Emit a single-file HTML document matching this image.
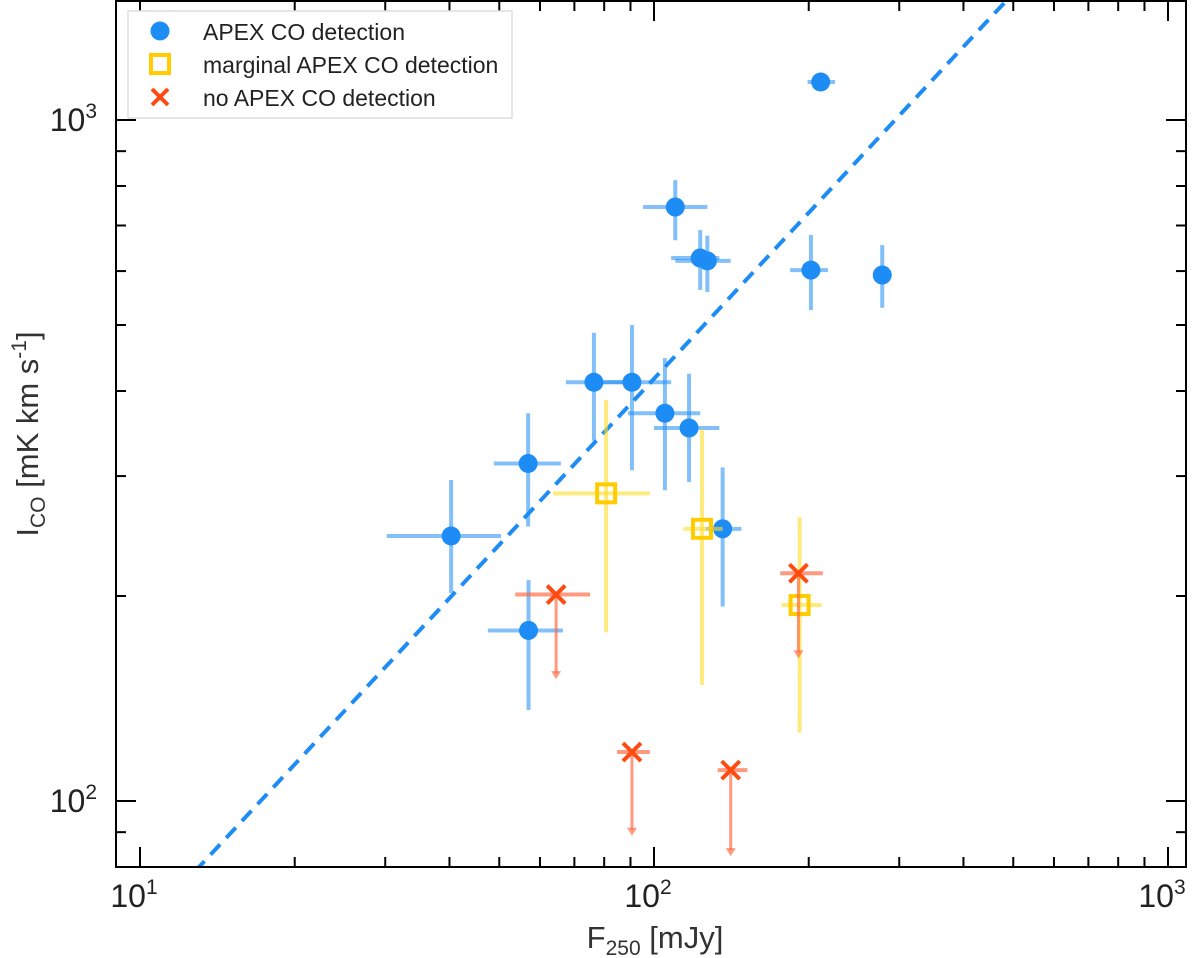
<!DOCTYPE html>
<html><head><meta charset="utf-8"><style>
html,body{margin:0;padding:0;background:#fff;}
svg{display:block;font-family:"Liberation Sans",Arial,sans-serif;}
</style></head><body>
<svg id="chart" width="1200" height="958" viewBox="0 0 1200 958">
<defs><clipPath id="plotclip"><rect x="116" y="1" width="1070" height="866"/></clipPath></defs>
<g id="fit" clip-path="url(#plotclip)"></g>
<g id="marks" clip-path="url(#plotclip)"></g>
<rect x="116" y="1" width="1070" height="866" fill="none" stroke="#000" stroke-width="2"/>
<g id="ticks"></g>
<g>
<rect x="128" y="11" width="384" height="107" fill="#fff" stroke="#ddd" stroke-width="1.5"/>
<circle cx="160" cy="31" r="9.5" fill="#1e8cf5"/>
<text x="203" y="40" font-size="23" fill="#222">APEX CO detection</text>
<rect x="151" y="55" width="18" height="18" fill="none" stroke="#ffcc00" stroke-width="4"/>
<text x="203" y="73" font-size="23" fill="#222">marginal APEX CO detection</text>
<path d="M152,89 L168,105 M168,89 L152,105" stroke="#ff4a10" stroke-width="4"/>
<text x="203" y="106" font-size="23" fill="#222">no APEX CO detection</text>
</g>
<text x="655" y="948" font-size="31" text-anchor="middle" fill="#333">F<tspan font-size="21" dy="7">250</tspan><tspan dy="-7"> [mJy]</tspan></text>
<text transform="translate(38,434) rotate(-90)" font-size="31" text-anchor="middle" fill="#333">I<tspan font-size="21" dy="7">CO</tspan><tspan dy="-7"> [mK km s</tspan><tspan font-size="21" dy="-12">-1</tspan><tspan dy="12">]</tspan></text>
</svg>
<script>
// Detected: [x, xlo, xhi, y, ylo, yhi]
const detX   = [40.3, 56.9, 57.0, 76.4, 90.6, 105, 110, 117, 123, 127, 136, 202, 211, 278];
const detXlo = [30.2, 48.8, 47.5, 67.4, 77.5, 89.0, 95.2, 100, 108, 110, 126, 184, 199, 272];
const detXhi = [50.4, 65.9, 66.5, 87.8, 108, 123, 127, 134, 134, 141, 148, 218, 225, 284];
const detY   = [245, 313, 178, 412, 412, 371, 745, 353, 627, 621, 251, 602, 1137, 592];
const detYlo = [202, 253, 136, 338, 306, 286, 666, 294, 563, 559, 193, 526, 1104, 530];
const detYhi = [296, 371, 211, 487, 500, 447, 816, 424, 689, 676, 309, 678, 1172, 655];
// Marginal
const marX   = [80.7, 124, 192];
const marXlo = [63.6, 114, 177];
const marXhi = [98.2, 136, 212];
const marY   = [283, 251, 194];
const marYlo = [177, 148, 126];
const marYhi = [388, 351, 261];
// Non-detections (upper limits)
const nonX   = [64.5, 90.6, 141, 191];
const nonXlo = [53.7, 84.7, 133, 176];
const nonXhi = [75.1, 98.2, 152, 213];
const nonY   = [201, 118, 111, 216];
const nonArrow = [151, 88.9, 83.0, 162];
// Fit: I = fitA * F^fitSlope
const fitA = 10.0;
const fitSlope = 0.81;
const xTickVals = [10, 100, 1000];
const xTickLabels = ["1", "2", "3"];
const yTickVals = [100, 1000];
const yTickLabels = ["2", "3"];

const NS = "http://www.w3.org/2000/svg";
function X(v){ return 140 + 514*Math.log10(v/10); }
function Y(v){ return 801 - 681*Math.log10(v/100); }
function mk(tag, attrs, parent){
  const e = document.createElementNS(NS, tag);
  for (const k in attrs) e.setAttribute(k, attrs[k]);
  parent.appendChild(e); return e;
}
const marks = document.getElementById('marks');
const ticks = document.getElementById('ticks');
const fitG = document.getElementById('fit');

const fl = mk('line', {x1:X(9), y1:Y(fitA*Math.pow(9,fitSlope)), x2:X(1100), y2:Y(fitA*Math.pow(1100,fitSlope)), stroke:'#1e8cf5', 'stroke-width':4, 'stroke-dasharray':'14,9'}, fitG);



function errbars(x, xlo, xhi, y, ylo, yhi, color, name){
  const g = mk('g', {}, marks);
  
  
  mk('line', {x1:X(xlo), x2:X(xhi), y1:Y(y), y2:Y(y), stroke:color, 'stroke-width':4}, g);
  mk('line', {x1:X(x), x2:X(x), y1:Y(ylo), y2:Y(yhi), stroke:color, 'stroke-width':4}, g);
  return g;
}
for (let i=0;i<detX.length;i++){
  const g = errbars(detX[i],detXlo[i],detXhi[i],detY[i],detYlo[i],detYhi[i],'rgba(30,140,245,0.55)','detection-point-'+i);
  const c = mk('circle', {cx:X(detX[i]), cy:Y(detY[i]), r:9.5, fill:'#1e8cf5'}, g);
  
  
}
for (let i=0;i<marX.length;i++){
  const g = errbars(marX[i],marXlo[i],marXhi[i],marY[i],marYlo[i],marYhi[i],'rgba(255,220,40,0.6)','marginal-point-'+i);
  const r = mk('rect', {x:X(marX[i])-9, y:Y(marY[i])-9, width:18, height:18, fill:'none', stroke:'#ffcc00', 'stroke-width':4}, g);
  
  
}
for (let i=0;i<nonX.length;i++){
  const g = mk('g', {}, marks);
  
  
  const col = 'rgba(255,100,60,0.65)';
  const cx = X(nonX[i]), cy = Y(nonY[i]), ay = Y(nonArrow[i]);
  mk('line', {x1:X(nonXlo[i]), x2:X(nonXhi[i]), y1:cy, y2:cy, stroke:col, 'stroke-width':4}, g);
  mk('line', {x1:cx, x2:cx, y1:cy, y2:ay-6, stroke:col, 'stroke-width':3}, g);
  mk('path', {d:`M${cx-5},${ay-8} L${cx+5},${ay-8} L${cx},${ay} Z`, fill:col}, g);
  const p = mk('path', {d:`M${cx-9},${cy-9} L${cx+9},${cy+9} M${cx+9},${cy-9} L${cx-9},${cy+9}`, stroke:'#ff4a10', 'stroke-width':4}, g);
  
  
}
for (let d=1; d<=3; d++){
  for (let m=1; m<=9; m++){
    const v = Math.pow(10,d)*m;
    const x = X(v);
    if (x<116 || x>1186) continue;
    const len = m===1?20:10;
    const t1 = mk('line',{x1:x,x2:x,y1:867,y2:867-len,stroke:'#000','stroke-width':2},ticks);
    
    
    mk('line',{x1:x,x2:x,y1:1,y2:1+len,stroke:'#000','stroke-width':2},ticks);
  }
}
for (let d=1; d<=3; d++){
  for (let m=1; m<=9; m++){
    const v = Math.pow(10,d)*m;
    const y = Y(v);
    if (y<1 || y>867) continue;
    const len = m===1?20:10;
    const t1 = mk('line',{x1:116,x2:116+len,y1:y,y2:y,stroke:'#000','stroke-width':2},ticks);
    
    
    mk('line',{x1:1186,x2:1186-len,y1:y,y2:y,stroke:'#000','stroke-width':2},ticks);
  }
}
for (let i=0;i<xTickVals.length;i++){
  const t = mk('text',{x:X(xTickVals[i])-6,y:907,'font-size':32,'text-anchor':'middle',fill:'#222'},ticks);
  
  
  t.textContent='10';
  const s = mk('tspan',{'font-size':21,dy:-13},t); s.textContent=xTickLabels[i];
}
for (let i=0;i<yTickVals.length;i++){
  const t = mk('text',{x:97,y:Y(yTickVals[i])+11,'font-size':32,'text-anchor':'end',fill:'#222'},ticks);
  
  
  t.textContent='10';
  const s = mk('tspan',{'font-size':21,dy:-13},t); s.textContent=yTickLabels[i];
}
</script>
</body></html>
